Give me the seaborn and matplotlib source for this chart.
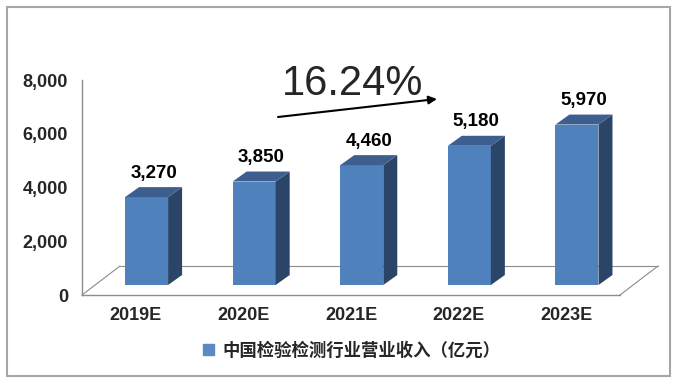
import matplotlib
matplotlib.use('Agg')
import matplotlib.pyplot as plt
import seaborn as sns
import pandas as pd
from matplotlib.patches import Polygon, Rectangle
from matplotlib.lines import Line2D
from matplotlib.font_manager import FontProperties

# ---- data ----
years = ['2019E', '2020E', '2021E', '2022E', '2023E']
revenue = [3270, 3850, 4460, 5180, 5970]
value_labels = ['3,270', '3,850', '4,460', '5,180', '5,970']
series_name = '中国检验检测行业营业收入（亿元）'
yticks = [0, 2000, 4000, 6000, 8000]
ytick_labels = ['0', '2,000', '4,000', '6,000', '8,000']
cagr_text = '16.24%'

sns.set_theme(style='white')
plt.rcParams['font.family'] = ['Liberation Sans', 'Noto Sans CJK SC', 'DejaVu Sans']

W, H = 680, 384
fig = plt.figure(figsize=(W / 100, H / 100), dpi=100)
fig.patch.set_facecolor('white')
ax = fig.add_axes([82 / W, 89 / H, 538 / W, 215 / H])
ax.set_facecolor('none')

df = pd.DataFrame({'year': years, 'revenue': revenue})
front_col = '#4f81bd'
side_col = '#2b4568'
top_col = '#3d5f8f'
sns.barplot(data=df, x='year', y='revenue', color=front_col, width=0.4,
            saturation=1, ax=ax, edgecolor='none', errorbar=None)

ax.set_xlim(-0.5, 4.5)
ax.set_ylim(0, 8000)

# pixel -> data conversions (for 3D depth effect)
px_x = 5 / 538
px_y = 8000 / 215
dx = 14 * px_x
dy = 10 * px_y
shift = 0.1
base = 10 * px_y

# floor parallelogram
fdx = 38 * px_x
fdy = 29 * px_y
floor_kw = dict(color='#8c8c8c', lw=0.8, clip_on=False, zorder=0.5)
ax.add_line(Line2D([-0.5 + fdx, 4.5 + fdx], [fdy, fdy], **floor_kw))
ax.add_line(Line2D([-0.5, -0.5 + fdx], [0, fdy], **floor_kw))
ax.add_line(Line2D([4.5, 4.5 + fdx], [0, fdy], **floor_kw))

for p, lbl in zip(ax.patches, value_labels):
    x0 = p.get_x() + shift
    w = p.get_width()
    h = p.get_height()
    p.set_x(x0)
    p.set_y(base)
    p.set_zorder(3)
    side = Polygon([(x0 + w, base), (x0 + w + dx, base + dy),
                    (x0 + w + dx, base + h + dy), (x0 + w, base + h)],
                   closed=True, fc=side_col, ec='none', zorder=3, clip_on=False)
    top = Polygon([(x0, base + h), (x0 + w, base + h),
                   (x0 + w + dx, base + h + dy), (x0 + dx, base + h + dy)],
                  closed=True, fc=top_col, ec='none', zorder=3, clip_on=False)
    ax.add_patch(side)
    ax.add_patch(top)
    ax.annotate(lbl, (x0 + w / 2 + dx / 2, base + h + dy), xytext=(0, 4),
                textcoords='offset points', ha='center', va='bottom',
                fontsize=13.5, fontweight='bold', color='black', zorder=5)

# axes styling
for s in ['top', 'right']:
    ax.spines[s].set_visible(False)
for s in ['left', 'bottom']:
    ax.spines[s].set_color('#8c8c8c')
    ax.spines[s].set_linewidth(1.0)

ax.set_yticks(yticks, ytick_labels)
ax.set_xticks(range(len(years)), years)
ax.set_xticks([i - 0.5 for i in range(len(years) + 1)], minor=True)
ax.tick_params(axis='y', direction='out', length=4, width=1, color='#8c8c8c',
               labelsize=13, pad=6)
ax.tick_params(axis='x', which='major', length=0, labelsize=13, pad=9)
ax.tick_params(axis='x', which='minor', direction='out', length=4, width=1,
               color='#8c8c8c')
for t in ax.get_xticklabels() + ax.get_yticklabels():
    t.set_fontweight('bold')
ax.set_xlabel('')
ax.set_ylabel('')

# growth annotation
fig.text(353 / W, 1 - 84 / H, cagr_text, fontsize=30, ha='center', va='center',
         family=['Liberation Sans'])
ax.annotate('', xy=(437 / W, 1 - 99 / H), xytext=(278 / W, 1 - 117 / H),
            xycoords='figure fraction', textcoords='figure fraction',
            arrowprops=dict(arrowstyle='-|>', color='black', lw=1.5,
                            mutation_scale=12, shrinkA=0, shrinkB=0))

# legend
fig.legend(handles=[Rectangle((0, 0), 1, 1, color='#5a8ac6')], labels=[series_name],
           loc='center', bbox_to_anchor=(352 / W, 1 - 351 / H), frameon=False,
           prop=FontProperties(family=['Noto Sans CJK SC', 'DejaVu Sans'],
                               weight='bold', size=12.5),
           handlelength=0.6, handleheight=0.6, handletextpad=0.5)

# outer frame
fig.add_artist(Rectangle((7 / W, 8 / H), 663 / W, 369 / H, transform=fig.transFigure,
                         fill=False, ec='#a6a6a6', lw=1.5))

fig.savefig('out.png', dpi=100)
